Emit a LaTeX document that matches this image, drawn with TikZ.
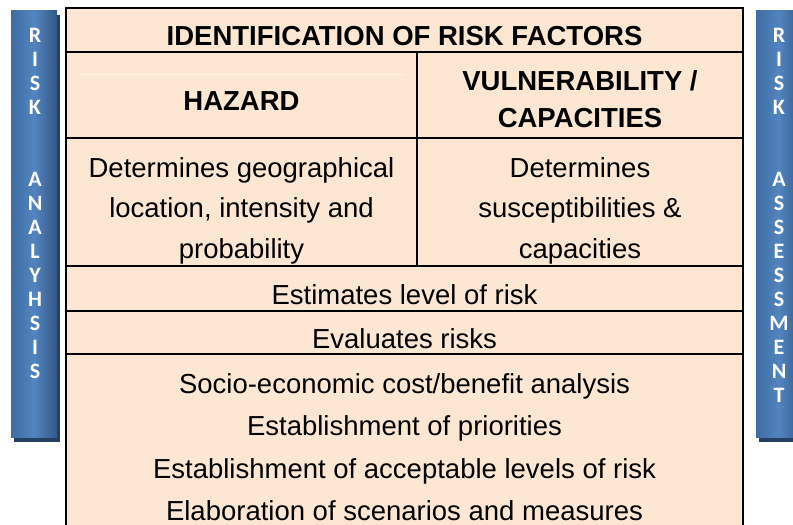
\documentclass[tikz,border=0pt]{standalone}
\usepackage{fontspec}
\setmainfont{Liberation Sans}
\newfontfamily\barfont{Carlito}
\definecolor{cellfill}{HTML}{FEE7D2}
\definecolor{barlight}{HTML}{5284BF}
\definecolor{barleft}{HTML}{3F6CA3}
\definecolor{barright}{HTML}{335889}
\definecolor{barshadow}{HTML}{243F60}
\definecolor{faintline}{HTML}{FFF3E8}
\tikzset{
  grid/.style={line width=2.2pt, black},
  bodytext/.style={font=\fontsize{27.5}{40.5}\selectfont, align=center, anchor=north, inner sep=0pt},
  bodylist/.style={font=\fontsize{27.5}{42.3}\selectfont, align=center, anchor=north, inner sep=0pt},
  headtext/.style={font=\bfseries\fontsize{27.5}{37}\selectfont, align=center, anchor=north, inner sep=0pt},
  barshade/.style={left color=barleft, right color=barright, middle color=barlight},
  barletters/.style={font=\barfont\bfseries\fontsize{22}{24}\selectfont, text=white, align=center, anchor=north, inner sep=0pt}
}
\begin{document}
\begin{tikzpicture}[x=1pt,y=-1pt]
\useasboundingbox (0,0) rectangle (793,525);
\clip (0,0) rectangle (793,525);
% side bars
\fill[barshadow] (14,15) rectangle (60,442);
\shade[barshade] (11,10) rectangle (57,437);
\fill[barshadow] (759,15) rectangle (805,442);
\shade[barshade] (756,10) rectangle (802,437);
\node[barletters] (leftbar) at (35,28) {R\\I\\S\\K\\[48pt]A\\N\\A\\L\\Y\\H\\S\\I\\S};
\node[barletters] (rightbar) at (779,28) {R\\I\\S\\K\\[48pt]A\\S\\S\\E\\S\\S\\M\\E\\N\\T};
% table
\fill[cellfill] (66,8) rectangle (743,530);
\draw[faintline, line width=1pt] (80,74) -- (403,74);
\draw[grid] (66,530) -- (66,8) -- (743,8) -- (743,530);
\draw[grid] (66,52) -- (743,52);
\draw[grid] (66,138) -- (743,138);
\draw[grid] (66,266) -- (743,266);
\draw[grid] (66,311) -- (743,311);
\draw[grid] (66,354) -- (743,354);
\draw[grid] (417,52) -- (417,266);
% texts
\node[headtext] (title) at (404.5,26) {IDENTIFICATION OF RISK FACTORS};
\node[headtext] (hazard) at (241.5,91.3) {HAZARD};
\node[headtext] (vuln) at (580,70.3) {VULNERABILITY /\\CAPACITIES};
\node[bodytext] (hazdesc) at (241.5,157.3) {Determines geographical\\location, intensity and\\probability};
\node[bodytext] (vulndesc) at (580,157.3) {Determines\\susceptibilities \&\\capacities};
\node[bodytext] (estimates) at (404.5,284.3) {Estimates level of risk};
\node[bodytext] (evaluates) at (404.5,328.3) {Evaluates risks};
\node[bodylist] (measures) at (404.5,373.3) {Socio-economic cost/benefit analysis\\Establishment of priorities\\Establishment of acceptable levels of risk\\Elaboration of scenarios and measures};
\end{tikzpicture}
\end{document}
